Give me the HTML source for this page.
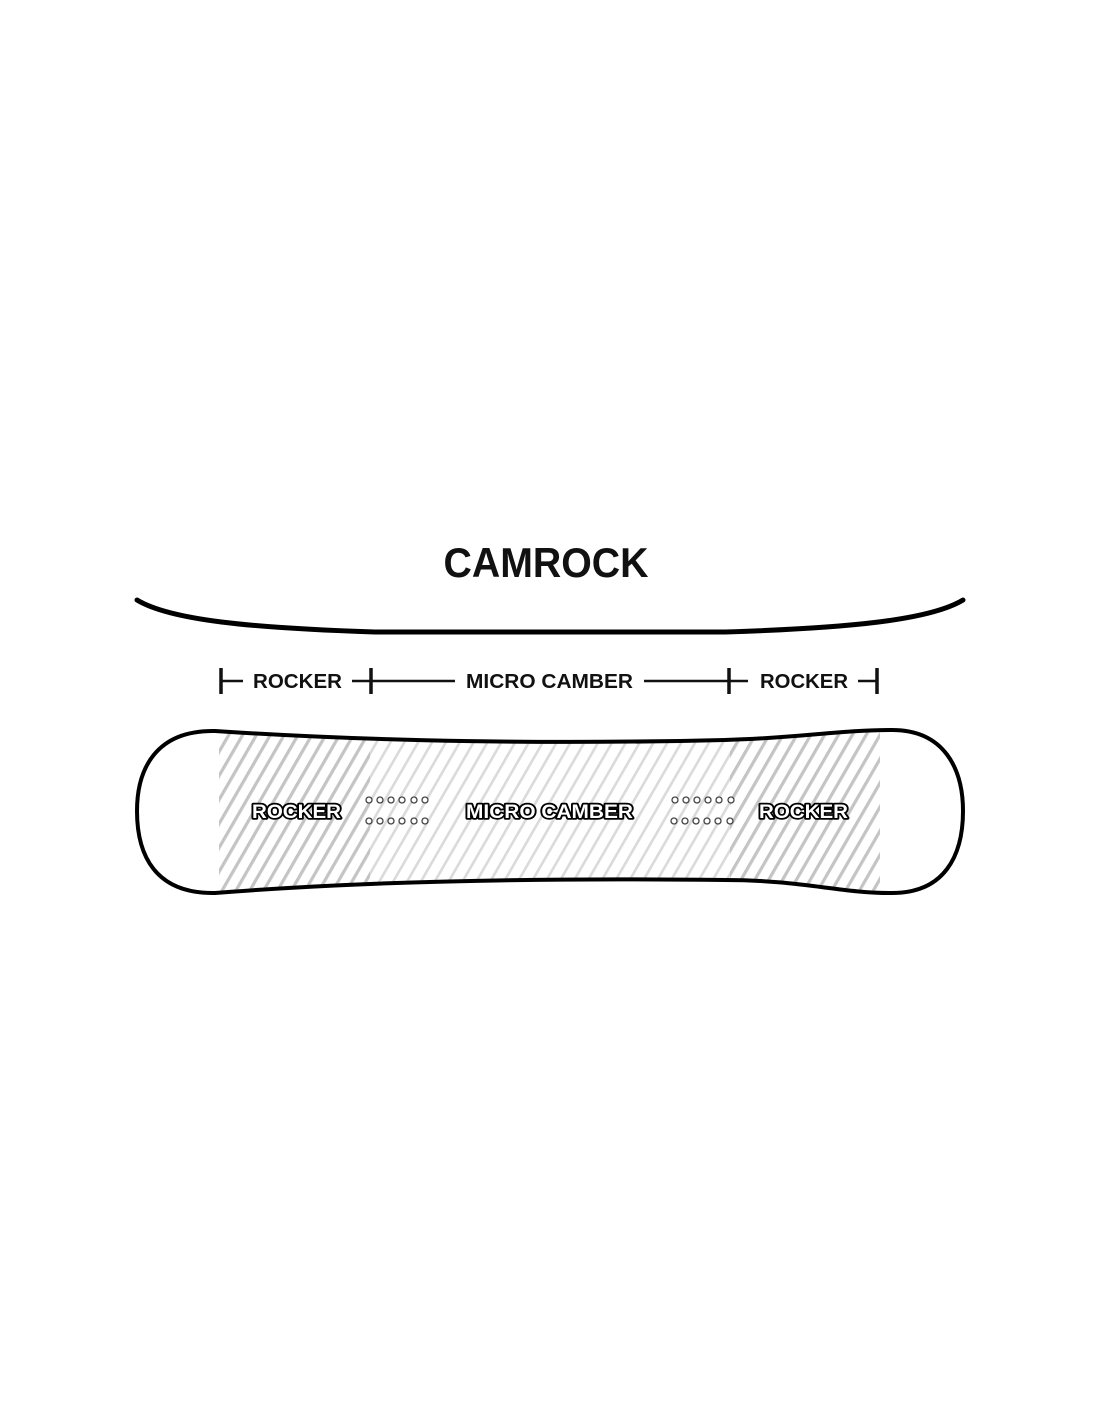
<!DOCTYPE html>
<html><head><meta charset="utf-8"><style>
html,body{margin:0;padding:0;background:#fff;}
svg{display:block;}
</style></head><body>
<svg width="1100" height="1422" viewBox="0 0 1100 1422" xmlns="http://www.w3.org/2000/svg">
<defs>
<pattern id="h1" patternUnits="userSpaceOnUse" width="12" height="12" patternTransform="rotate(30)">
<rect width="12" height="12" fill="#fff"/><rect x="0" y="0" width="3.2" height="12" fill="#c4c4c4"/>
</pattern>
<pattern id="h2" patternUnits="userSpaceOnUse" width="12" height="12" patternTransform="rotate(30)">
<rect width="12" height="12" fill="#fff"/><rect x="0" y="0" width="2.6" height="12" fill="#dadada"/>
</pattern>
<clipPath id="board">
<path d="M215,731 C380,742 560,744 725,740 C800,738 840,730 890,730 L890,893 C840,893 800,880 725,880 C560,878 380,880 215,893 Z"/>
</clipPath>
</defs>
<text x="546" y="577" text-anchor="middle" font-family="'Liberation Sans',sans-serif" font-weight="bold" font-size="42" textLength="205" lengthAdjust="spacingAndGlyphs" fill="#111">CAMROCK</text>
<path d="M137,600 C170,620 250,628 375,632 L725,632 C850,628 930,620 963,600" fill="none" stroke="#000" stroke-width="5" stroke-linecap="round"/>
<g stroke="#111" stroke-width="2.5" fill="none">
<line x1="221" y1="668" x2="221" y2="694" stroke-width="3.5"/>
<line x1="221" y1="681" x2="243" y2="681"/>
<line x1="352" y1="681" x2="455" y2="681"/>
<line x1="371" y1="668" x2="371" y2="694" stroke-width="3.5"/>
<line x1="644" y1="681" x2="748" y2="681"/>
<line x1="729" y1="668" x2="729" y2="694" stroke-width="3.5"/>
<line x1="858" y1="681" x2="877" y2="681"/>
<line x1="877" y1="668" x2="877" y2="694" stroke-width="3.5"/>
</g>
<g font-family="'Liberation Sans',sans-serif" font-weight="bold" font-size="20" fill="#111">
<text x="253" y="688" textLength="89" lengthAdjust="spacingAndGlyphs">ROCKER</text>
<text x="466" y="688" textLength="167" lengthAdjust="spacingAndGlyphs">MICRO CAMBER</text>
<text x="760" y="688" textLength="88" lengthAdjust="spacingAndGlyphs">ROCKER</text>
</g>
<g clip-path="url(#board)">
<rect x="219" y="725" width="151" height="175" fill="url(#h1)"/>
<rect x="370" y="725" width="360" height="175" fill="url(#h2)"/>
<rect x="730" y="725" width="150" height="175" fill="url(#h1)"/>
</g>
<path d="M215,731 C380,742 560,744 725,740 C800,738 840,730 890,730 C945,729 963,770 963,811 C963,855 945,894 890,893 C840,893 800,880 725,880 C560,878 380,880 215,893 C155,894 137,855 137,811 C137,770 155,730 215,731 Z" fill="none" stroke="#000" stroke-width="4"/>
<g font-family="'Liberation Sans',sans-serif" font-weight="bold" font-size="19" fill="#fff" stroke="#000" stroke-width="3.5" paint-order="stroke" stroke-linejoin="round">
<text x="252" y="818" textLength="89" lengthAdjust="spacingAndGlyphs">ROCKER</text>
<text x="466" y="818" textLength="167" lengthAdjust="spacingAndGlyphs">MICRO CAMBER</text>
<text x="759" y="818" textLength="89" lengthAdjust="spacingAndGlyphs">ROCKER</text>
</g>
<g fill="#fff" stroke="#444" stroke-width="1.3">
<circle cx="369" cy="800" r="3"/><circle cx="380" cy="800" r="3"/><circle cx="391" cy="800" r="3"/><circle cx="402" cy="800" r="3"/><circle cx="414" cy="800" r="3"/><circle cx="425" cy="800" r="3"/>
<circle cx="369" cy="821" r="3"/><circle cx="380" cy="821" r="3"/><circle cx="391" cy="821" r="3"/><circle cx="402" cy="821" r="3"/><circle cx="414" cy="821" r="3"/><circle cx="425" cy="821" r="3"/>
<circle cx="675" cy="800" r="3"/><circle cx="686" cy="800" r="3"/><circle cx="697" cy="800" r="3"/><circle cx="708" cy="800" r="3"/><circle cx="719" cy="800" r="3"/><circle cx="731" cy="800" r="3"/>
<circle cx="674" cy="821" r="3"/><circle cx="685" cy="821" r="3"/><circle cx="696" cy="821" r="3"/><circle cx="707" cy="821" r="3"/><circle cx="718" cy="821" r="3"/><circle cx="730" cy="821" r="3"/>
</g>
</svg>
</body></html>
